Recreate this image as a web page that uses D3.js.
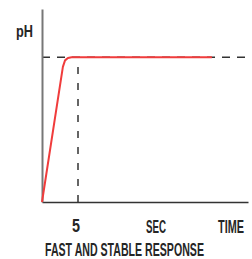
<!DOCTYPE html>
<html>
<head>
<meta charset="utf-8">
<script src="https://cdn.jsdelivr.net/npm/d3@7"></script>
<style>
  body { margin: 0; background: #fff; }
  text { font-family: "Liberation Sans", "DejaVu Sans", sans-serif; font-weight: bold; fill: #262626; }
</style>
</head>
<body>
<div id="chart"></div>
<script>
// response curve (seconds, pH units)
const timeSec = [0, 2.9, 3.2, 3.6, 4.1, 23.6];
const phValues = [0, 5.6, 5.87, 5.97, 6.0, 6.0];
const setpoint = 6;
const responseTime = 5;
const xTicks = [5];
const xTickLabels = ["5"];
const unitLabel = "SEC";
const axisName = "TIME";
const yName = "pH";
const caption = "FAST AND STABLE RESPONSE";

const data = timeSec.map((t, i) => ({ t: t, ph: phValues[i] }));

const margin = { top: 9, right: 4, bottom: 57, left: 42 };
const width = 252 - margin.left - margin.right;
const height = 259 - margin.top - margin.bottom;

const root = d3.select("#chart")
    .append("svg")
    .attr("width", 252)
    .attr("height", 259);

const svg = root.append("g")
    .attr("transform", `translate(${margin.left},${margin.top})`);

const x = d3.scaleLinear()
    .domain([0, width / 7.2])
    .range([0, width]);

const y = d3.scaleLinear()
    .domain([0, 8])
    .range([height, 0]);

// dashed guides
svg.append("line")
    .attr("x1", x(0))
    .attr("x2", x.range()[1])
    .attr("y1", y(setpoint))
    .attr("y2", y(setpoint))
    .attr("stroke", "#333")
    .attr("stroke-width", 1.5)
    .attr("stroke-dasharray", "8,7");

svg.append("line")
    .attr("x1", x(responseTime))
    .attr("x2", x(responseTime))
    .attr("y1", y(0))
    .attr("y2", y(setpoint))
    .attr("stroke", "#333")
    .attr("stroke-width", 1.5)
    .attr("stroke-dasharray", "7,9");

// axes
const xAxis = d3.axisBottom(x)
    .tickValues(xTicks)
    .tickSize(0)
    .tickSizeOuter(0);

const yAxis = d3.axisLeft(y).ticks(0).tickSizeOuter(0);

const gx = svg.append("g")
    .attr("transform", `translate(0,${height})`)
    .call(xAxis);
gx.select(".domain").attr("stroke", "#333").attr("stroke-width", 1.5);
gx.selectAll(".tick text").remove();

const gy = svg.append("g").call(yAxis);
gy.select(".domain").attr("stroke", "#777").attr("stroke-width", 2);

// response line
const line = d3.line()
    .x(d => x(d.t))
    .y(d => y(d.ph));

svg.append("path")
    .datum(data)
    .attr("fill", "none")
    .attr("stroke", "#f03c3c")
    .attr("stroke-width", 2)
    .attr("stroke-linejoin", "round")
    .attr("d", line);

// condensed labels: squeeze horizontally to the width seen in the picture
function label(parent, str, left, baseline, size, w) {
    const t = parent.append("text")
        .style("font-size", size + "px")
        .text(str);
    const sx = w / t.node().getComputedTextLength();
    t.attr("transform", `translate(${left},${baseline}) scale(${sx},1)`);
    return t;
}

label(root, yName, 16, 37, 16, 17);
xTicks.forEach((v, i) => label(root, xTickLabels[i], margin.left + x(v) - 6, 232, 18, 8));
label(root, unitLabel, 146, 233, 18, 20);
label(root, axisName, 218, 233, 18, 26);
label(root, caption, 45, 256, 18, 159);
</script>
</body>
</html>
